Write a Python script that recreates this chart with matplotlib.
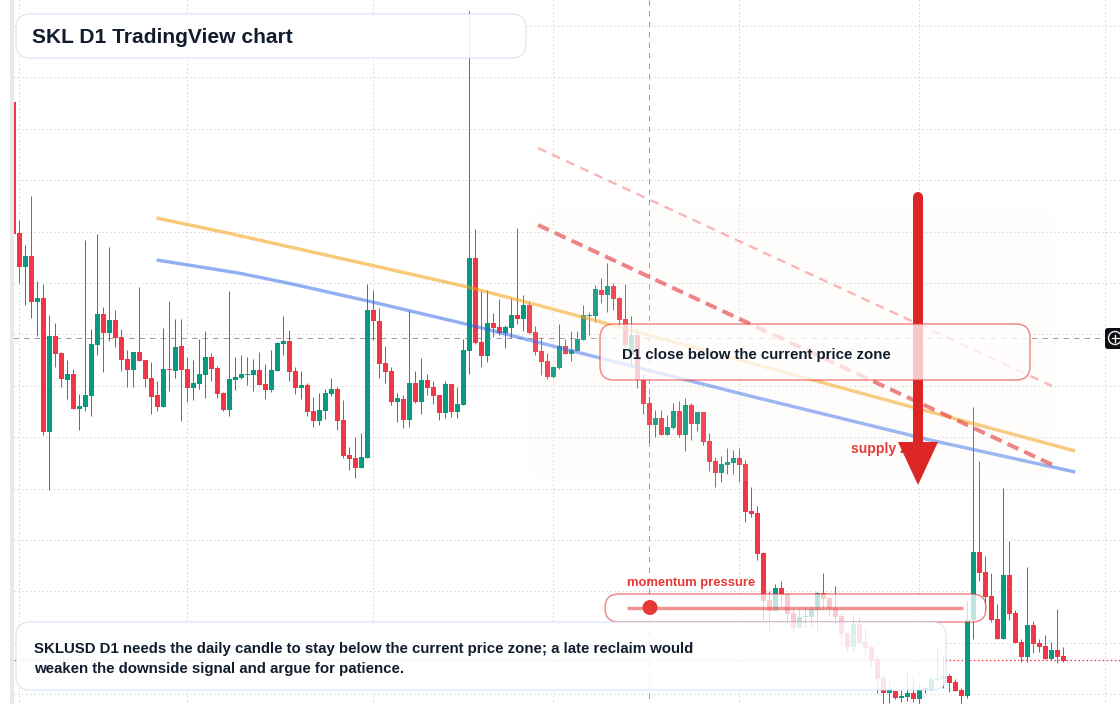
import matplotlib
matplotlib.use("Agg")
import matplotlib.pyplot as plt
import numpy as np
from matplotlib.patches import FancyBboxPatch, Polygon, Rectangle, Circle

plt.rcParams['font.family'] = ['Liberation Sans', 'DejaVu Sans']

# SKLUSD daily candles. The export has no price scale, so values are chart
# units counted downward from the top edge of the chart.
first_index = -1
opens = [102, 233, 267, 256, 302, 298, 432, 336, 353, 380, 374, 409, 407, 396, 345, 314,
         333, 320, 337, 359, 370, 352, 360, 378, 395, 407, 369, 371, 346, 369, 388, 384,
         375, 357, 368, 393, 410, 380, 378, 375, 375, 370, 384, 390, 371, 344, 341, 371,
         388, 385, 411, 421, 411, 394, 389, 420, 455, 458, 468, 458, 310, 321, 363, 371,
         402, 399, 420, 383, 402, 380, 387, 395, 413, 384, 412, 405, 351, 258, 342, 356,
         323, 327, 333, 328, 315, 319, 305, 332, 351, 361, 377, 368, 346, 354, 351, 340,
         316, 316, 290, 295, 286, 298, 319, 355, 335, 380, 403, 425, 418, 435, 428, 411,
         435, 405, 424, 412, 441, 461, 473, 465, 463, 458, 464, 511, 513, 553, 600, 611,
         588, 594, 613, 628, 617, 617, 610, 593, 598, 608, 616, 633, 647, 624, 642, 647,
         659, 678, 693, 691, 698, 697, 693, 699, 690, 690, 680, 679, 676, 682, 690, 696,
         620, 552, 572, 596, 619, 639, 575, 613, 642, 657, 625, 643, 646, 659, 650, 656]
highs = [102, 220, 245, 196, 281, 284, 315, 323, 352, 360, 369, 394, 240, 329, 234, 307,
         247, 310, 329, 350, 352, 287, 360, 362, 381, 328, 301, 319, 319, 357, 360, 339,
         331, 353, 366, 392, 291, 357, 355, 357, 359, 352, 364, 350, 342, 316, 330, 367,
         371, 383, 397, 393, 389, 378, 387, 400, 447, 437, 433, 284, 290, 308, 346, 367,
         393, 395, 311, 371, 358, 374, 381, 395, 381, 384, 387, 339, 11, 229, 291, 290,
         313, 299, 325, 298, 228, 295, 301, 326, 337, 353, 366, 324, 339, 331, 331, 305,
         312, 285, 278, 263, 283, 297, 284, 316, 328, 374, 396, 410, 410, 415, 403, 401,
         398, 403, 412, 412, 433, 457, 456, 448, 450, 448, 460, 487, 506, 552, 591, 584,
         581, 593, 607, 608, 606, 606, 592, 573, 598, 586, 613, 632, 616, 617, 629, 645,
         655, 675, 681, 691, 690, 671, 677, 684, 685, 677, 647, 656, 674, 679, 688, 601,
         407, 461, 556, 573, 604, 488, 541, 610, 639, 567, 621, 639, 635, 642, 609, 647]
lows = [234, 283, 305, 318, 336, 435, 490, 367, 387, 399, 409, 430, 411, 416, 355, 372,
        341, 347, 371, 387, 387, 361, 387, 414, 411, 407, 391, 378, 421, 402, 400, 389,
        398, 381, 398, 411, 416, 390, 379, 385, 391, 385, 399, 392, 371, 355, 381, 394,
        399, 416, 427, 425, 419, 396, 430, 458, 470, 478, 468, 458, 340, 378, 383, 405,
        422, 428, 427, 403, 414, 395, 404, 420, 418, 417, 418, 405, 374, 344, 367, 362,
        337, 335, 348, 338, 324, 331, 334, 355, 375, 379, 378, 369, 354, 361, 351, 340,
        335, 322, 303, 312, 310, 327, 347, 364, 388, 414, 443, 437, 435, 435, 429, 437,
        451, 440, 431, 445, 471, 487, 482, 474, 474, 482, 522, 517, 560, 620, 631, 611,
        606, 621, 633, 628, 627, 627, 633, 609, 616, 624, 644, 651, 651, 643, 655, 666,
        693, 704, 703, 699, 702, 701, 702, 704, 693, 690, 680, 688, 692, 691, 704, 698,
        639, 581, 610, 622, 639, 639, 620, 643, 662, 662, 653, 652, 659, 660, 663, 662]
closes = [234, 267, 256, 302, 298, 432, 336, 354, 379, 374, 409, 406, 395, 344, 314, 333,
          320, 338, 360, 370, 352, 361, 379, 397, 407, 369, 370, 347, 370, 388, 383, 374,
          357, 369, 394, 410, 379, 377, 374, 374, 370, 385, 390, 370, 343, 341, 372, 388,
          385, 412, 421, 410, 393, 389, 421, 456, 459, 468, 457, 310, 321, 364, 372, 402,
          398, 420, 383, 402, 380, 388, 396, 413, 384, 412, 404, 350, 258, 343, 356, 323,
          328, 333, 327, 315, 319, 305, 333, 352, 362, 377, 367, 346, 354, 350, 339, 315,
          315, 289, 295, 286, 299, 320, 345, 335, 380, 404, 425, 418, 435, 427, 411, 435,
          405, 424, 412, 442, 462, 473, 464, 462, 458, 465, 512, 514, 554, 601, 611, 588,
          595, 614, 628, 617, 616, 609, 593, 599, 609, 617, 634, 647, 624, 643, 648, 660,
          679, 693, 690, 698, 696, 693, 699, 690, 688, 679, 678, 676, 683, 691, 696, 620,
          552, 573, 597, 620, 639, 575, 614, 643, 657, 625, 644, 647, 659, 650, 657, 661]

# Moving averages, as (candle index, chart units)
ema_fast_x = [22.9, 35.1, 62.6, 75.1, 85.1, 95.1, 133.5, 149.1, 176.0]
ema_fast_y = [218, 233.5, 270.5, 287.5, 303, 319, 382, 407.5, 451]
ema_slow_x = [22.9, 28.4, 36.8, 45.1, 58.5, 75.1, 96.8, 121.8, 151.8, 176.0]
ema_slow_y = [260, 265.2, 273.3, 283.5, 301.5, 325, 358, 396, 440, 472]

grid_x = [0, 28, 59, 89, 120, 150, 181]
grid_y = [26, 77.4, 128.8, 180.2, 231.6, 283, 334.4, 385.8, 437.2, 488.6, 540, 591.4, 642.8, 694.2]
cross_index = 105
cross_level = 338
last_price = 660

UP = '#089981'
DOWN = '#f23645'
PX = 0.72  # one image pixel in points at dpi 100
X0 = 19.2  # pixel position of candle 0
# start and end of horizontal rules, on whole pixels so the dots stay crisp
X_START = (2 - X0) / 6
X_END = (1122 - X0) / 6


def rounded_box(ax, x0, y0, x1, y1, radius, fc, ec, lw, alpha_fc=1.0, alpha_ec=1.0, zorder=5):
    box = FancyBboxPatch((x0, y0), x1 - x0, y1 - y0,
                         boxstyle=f"round,pad=0,rounding_size={radius}",
                         facecolor=matplotlib.colors.to_rgba(fc, alpha_fc),
                         edgecolor=matplotlib.colors.to_rgba(ec, alpha_ec),
                         linewidth=lw * PX, zorder=zorder)
    ax.add_patch(box)
    return box


fig = plt.figure(figsize=(11.2, 7.04), dpi=100, facecolor='white')

# candle axes: x in candle index, 6 px per candle
ax = fig.add_axes([0, 0, 1, 1])
ax.set_xlim(-X0 / 6, (1120 - X0) / 6)
ax.set_ylim(704, 0)
ax.axis('off')

for gx in grid_x:
    ax.plot([gx, gx], [0, 704], color='#c2c5ca', lw=1.0 * PX, ls=(0, (1, 3)), zorder=1)
for gy in grid_y:
    ax.plot([X_START, X_END], [gy, gy], color='#c2c5ca', lw=1.0 * PX, ls=(0, (1, 3)), zorder=1)

ax.plot([X_START, X_END], [last_price, last_price], color=DOWN, lw=1.3 * PX, ls=(0, (1.2, 1.9)), zorder=1.5)
ax.plot([cross_index, cross_index], [0, 704], color='#9a9ca3', lw=1.0 * PX, ls=(0, (5.5, 5)), zorder=1.6)
ax.plot([-1, 181], [cross_level, cross_level], color='#9a9ca3', lw=1.0 * PX, ls=(0, (5.5, 5)), zorder=1.6)

idx = np.arange(first_index, first_index + len(opens))
o = np.array(opens, dtype=float)
h = np.array(highs, dtype=float)
l = np.array(lows, dtype=float)
c = np.array(closes, dtype=float)
colors = [UP if cl < op else DOWN for op, cl in zip(o, c)]
top = np.minimum(o, c)
bottom = np.maximum(o, c)

ax.vlines(idx, h, l, colors=colors, lw=1.0 * PX, zorder=2)
ax.bar(idx, bottom - top, bottom=top, width=5 / 6, color=colors, linewidth=0, zorder=3)

ax.plot(ema_fast_x, ema_fast_y, color='#f59e0b', alpha=0.55, lw=3.4 * PX, zorder=4, solid_capstyle='butt')
ax.plot(ema_slow_x, ema_slow_y, color='#2563eb', alpha=0.5, lw=3.4 * PX, zorder=4, solid_capstyle='butt')

# annotation layer in image pixels, drawn over the candles
over = fig.add_axes([0, 0, 1, 1])
over.set_xlim(0, 1120)
over.set_ylim(704, 0)
over.axis('off')
over.patch.set_alpha(0)

# faint supply zone
rounded_box(over, 528, 207, 1053, 481, 22, '#ffeedd', 'none', 0, alpha_fc=0.1, zorder=1)

# projected downside lines
over.plot([538, 1052], [148, 386], color='#ef4444', alpha=0.38, lw=2.4 * PX,
          ls=(0, (9 / 2.4, 6.5 / 2.4)), zorder=2)
over.plot([538, 1055], [225, 466], color='#e5383b', alpha=0.62, lw=4 * PX,
          ls=(0, (12 / 4, 6.5 / 4)), zorder=2)

# big arrow
over.plot([918, 918], [197, 446], color='#dc2626', lw=10 * PX, solid_capstyle='round', zorder=3)
over.add_patch(Polygon([(898, 442), (938, 442), (918, 485)], closed=True,
                       facecolor='#dc2626', edgecolor='none', zorder=3.1))
over.text(851, 449, 'supply zone', color='#e53935', fontsize=14 * PX, fontweight='bold',
          va='center', ha='left', zorder=2.5)

# panels
rounded_box(over, 600, 324, 1030, 380, 14, 'white', '#e5383b', 1.5, alpha_fc=0.74, alpha_ec=0.6, zorder=6)
over.text(622, 355, 'D1 close below the current price zone', color='#111c2d',
          fontsize=15 * PX, fontweight='bold', va='center', ha='left', zorder=7)

rounded_box(over, 605, 594, 986, 622, 14, 'white', '#e5383b', 1.5, alpha_fc=0.74, alpha_ec=0.6, zorder=6)
over.plot([627, 963], [607.5, 607.5], color='#e5383b', alpha=0.55, lw=3.4 * PX, zorder=7, solid_capstyle='butt')
over.add_patch(Circle((650, 607.5), 7.5, facecolor='#e53935', edgecolor='none', zorder=7.5))
over.text(627, 583, 'momentum pressure', color='#e53935', fontsize=13 * PX, fontweight='bold',
          va='center', ha='left', zorder=7)

rounded_box(over, 16, 14, 526, 58, 14, 'white', '#c9dcf7', 1.6, alpha_fc=0.88, alpha_ec=0.55, zorder=8)
over.text(32, 37.5, 'SKL D1 TradingView chart', color='#111c2d', fontsize=21 * PX, fontweight='bold',
          va='center', ha='left', zorder=9)

rounded_box(over, 16, 622, 946, 690, 14, 'white', '#c9dcf7', 1.6, alpha_fc=0.86, alpha_ec=0.55, zorder=8)
over.text(34, 649, 'SKLUSD D1 needs the daily candle to stay below the current price zone; a late reclaim would',
          color='#111c2d', fontsize=15.05 * PX, fontweight='bold', va='center', ha='left', zorder=9)
over.text(34, 669, 'weaken the downside signal and argue for patience.',
          color='#111c2d', fontsize=15.05 * PX, fontweight='bold', va='center', ha='left', zorder=9)

# window edge on the left
over.add_patch(Rectangle((0, 0), 10, 704, facecolor='white', edgecolor='none', zorder=10))
over.add_patch(Rectangle((10, 0), 4, 704, facecolor='#e9e9e9', edgecolor='none', zorder=10))

# crosshair button on the right edge
rounded_box(over, 1105, 328, 1124, 349, 3, '#0c0d10', '#0c0d10', 0, zorder=10)
over.add_patch(Circle((1115, 338), 6.5, facecolor='none', edgecolor='#e6e6e6', linewidth=1.5 * PX, zorder=11))
over.plot([1111.5, 1118.5], [338, 338], color='white', lw=1.3 * PX, zorder=11)
over.plot([1115, 1115], [334.5, 341.5], color='white', lw=1.3 * PX, zorder=11)

fig.savefig('out.png', dpi=100)
